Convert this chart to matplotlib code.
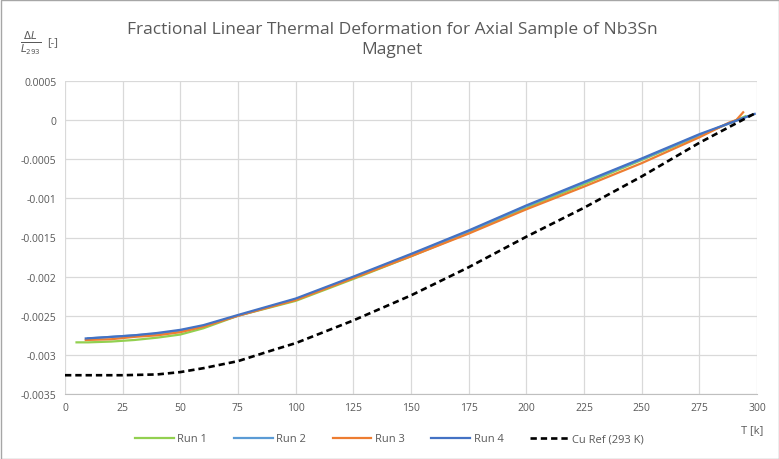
import matplotlib.pyplot as plt
from matplotlib.patches import Rectangle

plt.rcParams['font.family'] = ['Open Sans', 'DejaVu Sans']

# data
t_run1 = [5, 10, 20, 30, 40, 50, 60, 75, 100, 125, 150, 175, 200, 225, 250, 275, 295]
run1 = [-0.00284, -0.00284, -0.00283, -0.00281, -0.00278, -0.00274, -0.00266, -0.0025, -0.00231,
        -0.00203, -0.00174, -0.00144, -0.00112, -0.00082, -0.00051, -0.0002, 0.00005]

t_run2 = [10, 20, 30, 40, 50, 60, 75, 100, 125, 150, 175, 200, 225, 250, 275, 297]
run2 = [-0.00279, -0.00277, -0.00275, -0.00273, -0.00269, -0.00263, -0.0025, -0.00229, -0.00201,
        -0.00172, -0.00142, -0.0011, -0.0008, -0.0005, -0.00019, 0.00006]

t_run3 = [9, 20, 30, 40, 50, 60, 75, 100, 125, 150, 175, 200, 225, 250, 275, 288, 291, 294]
run3 = [-0.00281, -0.0028, -0.00277, -0.00275, -0.00271, -0.00264, -0.0025, -0.0023, -0.00202,
        -0.00174, -0.00145, -0.00114, -0.00085, -0.00055, -0.00022, -0.00003, 0.0, 0.0001]

t_run4 = [9, 20, 30, 40, 50, 60, 75, 100, 125, 150, 175, 200, 225, 250, 275, 299]
run4 = [-0.00279, -0.00277, -0.00275, -0.00272, -0.00268, -0.00262, -0.00249, -0.00228, -0.002,
        -0.00171, -0.00141, -0.00109, -0.00079, -0.00049, -0.00018, 0.00008]

t_cu = [0, 25, 40, 50, 60, 75, 90, 100, 125, 150, 175, 200, 225, 250, 275, 300]
cu_ref = [-0.00326, -0.00326, -0.00325, -0.00322, -0.00317, -0.00308, -0.00294, -0.00285, -0.00256,
          -0.00224, -0.00188, -0.00149, -0.00112, -0.00072, -0.00029, 0.0001]

x_ticks = [0, 25, 50, 75, 100, 125, 150, 175, 200, 225, 250, 275, 300]
y_ticks = [0.0005, 0, -0.0005, -0.001, -0.0015, -0.002, -0.0025, -0.003, -0.0035]
y_labels = ["0.0005", "0", "-0.0005", "-0.001", "-0.0015", "-0.002", "-0.0025", "-0.003", "-0.0035"]

fig = plt.figure(figsize=(7.79, 4.60), dpi=100)
ax = fig.add_axes([65 / 779, 1 - 395 / 460, 692 / 779, 313 / 460])

grey = "#595959"
ax.plot(t_run1, run1, color="#92d050", linewidth=1.6, label="Run 1")
ax.plot(t_run2, run2, color="#5b9bd5", linewidth=1.6, label="Run 2")
ax.plot(t_run3, run3, color="#ed7d31", linewidth=1.6, label="Run 3")
ax.plot(t_run4, run4, color="#4472c4", linewidth=1.6, label="Run 4")
ax.plot(t_cu, cu_ref, color="black", linewidth=1.9, linestyle=(0, (2.4, 1.5)), label="Cu Ref (293 K)")

ax.set_xlim(0, 300)
ax.set_ylim(-0.0035, 0.0005)
ax.set_xticks(x_ticks)
ax.set_yticks(y_ticks)
ax.set_yticklabels(y_labels)
ax.tick_params(length=0, labelsize=7.5, colors=grey, pad=6)
ax.grid(color="#d9d9d9", linewidth=0.9)
ax.set_axisbelow(True)
for s in ["top", "right", "left"]:
    ax.spines[s].set_visible(False)
ax.spines["bottom"].set_color("#bfbfbf")

fig.text(392 / 779, 1 - 40 / 460, "Fractional Linear Thermal Deformation for Axial Sample of Nb3Sn\nMagnet",
         ha="center", va="center", fontsize=12.5, color=grey, linespacing=1.3)
fig.text(20 / 779, 1 - 43 / 460, r"$\frac{\Delta L}{L_{293}}$", ha="left", va="center",
         fontsize=10.5, color=grey)
fig.text(47 / 779, 1 - 43 / 460, "[-]", ha="left", va="center", fontsize=8, color=grey)
fig.text(752 / 779, 1 - 431 / 460, "T [k]", ha="center", va="center", fontsize=8, color=grey)

fig.legend(loc="center", bbox_to_anchor=(0.5, 1 - 440 / 460), ncol=5, frameon=False,
           fontsize=8, handlelength=3.5, columnspacing=2.4, handletextpad=0.3, labelcolor=grey)

fig.patches.append(Rectangle((0.5 / 779, 0.5 / 460), 1 - 1 / 779, 1 - 1 / 460, transform=fig.transFigure,
                             fill=False, edgecolor="#a6a6a6", linewidth=1))

fig.savefig("out.png", dpi=100)
